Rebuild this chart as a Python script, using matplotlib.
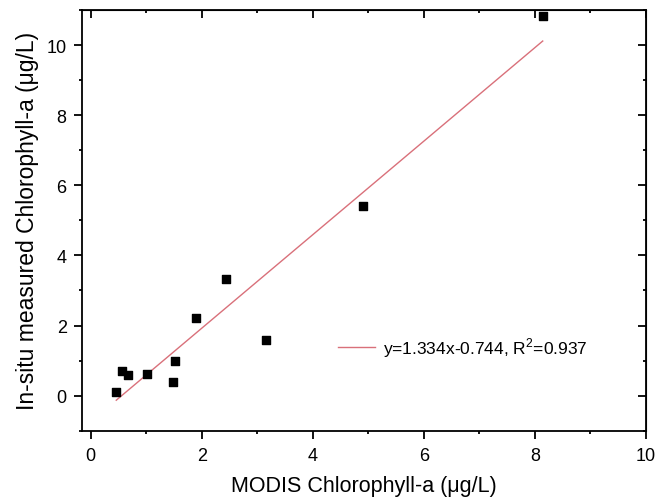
import matplotlib

matplotlib.use("Agg")
import matplotlib.pyplot as plt
import numpy as np
from matplotlib.ticker import MultipleLocator


# MODIS vs in-situ chlorophyll-a (ug/L)
modis_chl = [0.46, 0.57, 0.67, 1.02, 1.49, 1.51, 1.90, 2.44, 3.15, 4.91, 8.14]
insitu_chl = [0.10, 0.69, 0.60, 0.62, 0.39, 0.98, 2.22, 3.34, 1.60, 5.42, 10.83]

fit_slope = 1.334
fit_intercept = -0.744
fit_label = "y=1.334x-0.744, R$^2$=0.937"

plt.rcParams["font.family"] = ["Liberation Sans", "DejaVu Sans"]
plt.rcParams["mathtext.fontset"] = "custom"
plt.rcParams["mathtext.rm"] = "Liberation Sans"


def add_ticks(axis_obj, direction, pad):
    axis_obj.tick_params(which="both", direction=direction, width=1.3, pad=pad)
    axis_obj.tick_params(which="major", length=5.5)
    axis_obj.tick_params(which="minor", length=2.5)


def main() -> None:
    fig = plt.figure(figsize=(6.7, 5.02), dpi=100)
    ax = fig.add_axes([82 / 670, 1 - 431.7 / 502, (646 - 82) / 670, (431.7 - 11) / 502])

    ax.scatter(modis_chl, insitu_chl, marker="s", s=36, color="black", zorder=3)

    x_fit = np.array([min(modis_chl), max(modis_chl)])
    ax.plot(x_fit, fit_slope * x_fit + fit_intercept, color="#d9707a",
            linewidth=1.0, label=fit_label)

    ax.set_xlim(-0.157, 10)
    ax.set_ylim(-1, 11)
    ax.xaxis.set_major_locator(MultipleLocator(2))
    ax.xaxis.set_minor_locator(MultipleLocator(1))
    ax.yaxis.set_major_locator(MultipleLocator(2))
    ax.yaxis.set_minor_locator(MultipleLocator(1))

    for side in ax.spines.values():
        side.set_linewidth(1.3)

    ax.tick_params(which="both", top=False, right=False, labelsize=13)
    add_ticks(ax, "out", 3.5)
    ax.tick_params(axis="x", pad=6)
    ax.tick_params(axis="y", pad=5.5)

    # mirrored ticks on top/right point inward, without labels
    top = ax.secondary_xaxis("top")
    top.xaxis.set_major_locator(MultipleLocator(2))
    top.xaxis.set_minor_locator(MultipleLocator(1))
    top.tick_params(labeltop=False)
    add_ticks(top, "in", 3.5)

    right = ax.secondary_yaxis("right")
    right.yaxis.set_major_locator(MultipleLocator(2))
    right.yaxis.set_minor_locator(MultipleLocator(1))
    right.tick_params(labelright=False)
    add_ticks(right, "in", 3.5)

    ax.set_xlabel("MODIS Chlorophyll-a (\u03bcg/L)", fontsize=15.5, labelpad=8)
    ax.set_ylabel("In-situ measured Chlorophyll-a (\u03bcg/L)", fontsize=16.5, labelpad=5.5)

    ax.legend(loc="center left", bbox_to_anchor=(0.426, 0.199), frameon=False,
              fontsize=12.5, handlelength=2.13, handletextpad=0.46)

    fig.savefig("out.png", dpi=100)
    plt.close(fig)


if __name__ == "__main__":
    main()
